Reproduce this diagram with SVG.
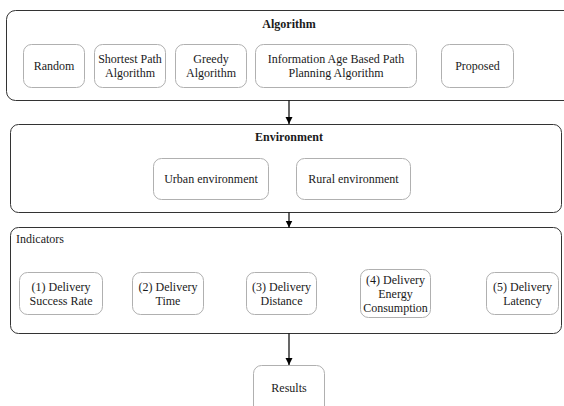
<svg xmlns="http://www.w3.org/2000/svg" width="564" height="406" viewBox="0 0 564 406">
<style>
text{font-family:"Liberation Serif","Times New Roman",serif;font-size:12px;fill:#1a1a1a;text-anchor:middle}
.title{font-weight:bold}
.left{text-anchor:start}
.outer{fill:#fff;stroke:#333;stroke-width:1}
.inner{fill:#fff;stroke:#b0b0b0;stroke-width:1}
.conn{stroke:#000;stroke-width:1.2;fill:none;marker-end:url(#arr)}
</style>
<defs>
<marker id="arr" markerUnits="userSpaceOnUse" markerWidth="8" markerHeight="8" refX="7" refY="3.5" orient="auto">
<path d="M0,0 L7,3.5 L0,7 z" fill="#000"/>
</marker>
</defs>
<rect width="564" height="406" fill="#fff"/>
<g id="algorithm">
<rect class="outer" x="6.5" y="10.5" width="575" height="90" rx="9"/>
<text class="title" x="289" y="28">Algorithm</text>
</g>
<g id="random"><rect class="inner" x="23.5" y="44.5" width="61" height="43" rx="8"/><text x="54" y="70">Random</text></g>
<g id="shortest"><rect class="inner" x="94.5" y="44.5" width="71" height="43" rx="8"/><text x="130" y="63">Shortest Path</text><text x="130" y="77">Algorithm</text></g>
<g id="greedy"><rect class="inner" x="175.5" y="44.5" width="71" height="43" rx="8"/><text x="211" y="63">Greedy</text><text x="211" y="77">Algorithm</text></g>
<g id="infoage"><rect class="inner" x="255.5" y="44.5" width="161" height="43" rx="8"/><text x="336" y="63">Information Age Based Path</text><text x="336" y="77">Planning Algorithm</text></g>
<g id="proposed"><rect class="inner" x="441.5" y="44.5" width="72" height="43" rx="8"/><text x="477.5" y="70">Proposed</text></g>
<g id="environment">
<rect class="outer" x="10.5" y="124.5" width="551" height="88" rx="8"/>
<text class="title" x="289" y="141">Environment</text>
</g>
<g id="urban"><rect class="inner" x="153.5" y="158.5" width="115" height="41" rx="8"/><text x="211" y="183">Urban environment</text></g>
<g id="rural"><rect class="inner" x="296.5" y="158.5" width="114" height="41" rx="8"/><text x="353.5" y="183">Rural environment</text></g>
<g id="indicators">
<rect class="outer" x="10.5" y="227.5" width="551" height="106" rx="8"/>
<text class="left" x="16" y="243">Indicators</text>
</g>
<g id="ind1"><rect class="inner" x="19.5" y="272.5" width="83" height="42" rx="8"/><text x="61" y="291">(1) Delivery</text><text x="61" y="305">Success Rate</text></g>
<g id="ind2"><rect class="inner" x="132.5" y="272.5" width="71" height="42" rx="8"/><text x="168" y="291">(2) Delivery</text><text x="168" y="305">Time</text></g>
<g id="ind3"><rect class="inner" x="246.5" y="272.5" width="70" height="42" rx="8"/><text x="281.5" y="291">(3) Delivery</text><text x="281.5" y="305">Distance</text></g>
<g id="ind4"><rect class="inner" x="360.5" y="269.5" width="70" height="48" rx="8"/><text x="395.5" y="284">(4) Delivery</text><text x="395.5" y="298">Energy</text><text x="395.5" y="312">Consumption</text></g>
<g id="ind5"><rect class="inner" x="486.5" y="272.5" width="72" height="42" rx="8"/><text x="522.5" y="291">(5) Delivery</text><text x="522.5" y="305">Latency</text></g>
<g id="results"><rect class="inner" x="253.5" y="365.5" width="71" height="50" rx="8"/><text x="289" y="392">Results</text></g>
<g id="connectors">
<path class="conn" d="M289,100.5 V124"/>
<path class="conn" d="M289,212.5 V227.5"/>
<path class="conn" d="M289,333.5 V365"/>
</g>
</svg>
